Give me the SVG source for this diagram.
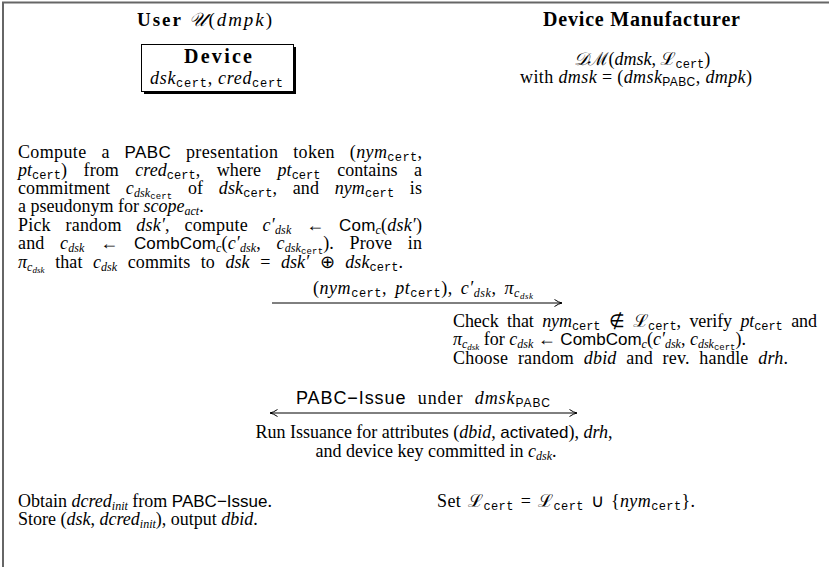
<svg xmlns="http://www.w3.org/2000/svg" width="829" height="567" viewBox="0 0 829 567">
<style>
.t{font-family:"Liberation Serif",serif;font-size:18px;fill:#000}
.b{font-weight:bold}
.i{font-style:italic}
.sf{font-family:"Liberation Sans",sans-serif;font-size:17px}
.tt{font-family:"Liberation Mono",monospace;font-size:12px}
.s{font-size:12px}
.ss{font-size:9px}
.tts{font-family:"Liberation Mono",monospace;font-size:9px}
.sfs{font-family:"Liberation Sans",sans-serif;font-size:12px}
.cal{font-family:"DejaVu Serif","Noto Sans",serif;font-style:italic}
.m{text-anchor:middle}
.ln{stroke:#000;stroke-width:1;fill:none}
</style>
<defs>
<marker id="ah" viewBox="0 0 10 10" refX="9.5" refY="5" markerWidth="10" markerHeight="10" markerUnits="userSpaceOnUse" orient="auto-start-reverse">
<path d="M2,1.5 Q6,4.3 9.5,5 Q6,5.7 2,8.5" fill="none" stroke="#000" stroke-width="1"/>
</marker>
</defs>
<rect width="829" height="567" fill="#fff"/>
<g id="frame">
<line x1="2" y1="2.5" x2="829" y2="2.5" stroke="#666" stroke-width="2"/>
<line x1="3" y1="2" x2="3" y2="567" stroke="#666" stroke-width="2"/>
</g>

<g id="user-header">
<text class="t" x="137" y="26" style="font-size:19px" textLength="135" lengthAdjust="spacing"><tspan class="b">User</tspan>  <tspan class="cal">𝒰</tspan>(<tspan class="i">dmpk</tspan>)</text>
</g>
<g id="dm-header">
<text class="t b" x="543" y="26" style="font-size:20px" textLength="197" lengthAdjust="spacing">Device Manufacturer</text>
<text class="t m" x="642" y="65"><tspan class="cal">𝒟ℳ</tspan>(<tspan class="i">dmsk</tspan>, <tspan class="cal">ℒ</tspan><tspan class="tt" dy="3">cert</tspan><tspan dy="-3">)</tspan></text>
<text class="t" x="520" y="83" textLength="232" lengthAdjust="spacing">with <tspan class="i">dmsk</tspan> = (<tspan class="i">dmsk</tspan><tspan class="sfs" dy="3">PABC</tspan><tspan dy="-3">, </tspan><tspan class="i">dmpk</tspan>)</text>
</g>

<g id="device">
<rect x="144" y="47" width="152" height="47" fill="#000"/>
<rect x="141.5" y="44.5" width="152" height="47" fill="#fff" stroke="#000" stroke-width="1"/>
<text class="t b" x="184" y="63" style="font-size:20px" textLength="68" lengthAdjust="spacing">Device</text>
<text class="t" x="150" y="84" textLength="133" lengthAdjust="spacing"><tspan class="i">dsk</tspan><tspan class="tt" dy="3">cert</tspan><tspan dy="-3">, </tspan><tspan class="i">cred</tspan><tspan class="tt" dy="3">cert</tspan></text>
</g>

<g id="user-step1">
<text class="t" x="18" y="158" style="word-spacing:10px" textLength="404" lengthAdjust="spacing">Compute a <tspan class="sf">PABC</tspan> presentation token (<tspan class="i">nym</tspan><tspan class="tt" dy="3">cert</tspan><tspan dy="-3">,</tspan></text>
<text class="t" x="18" y="176" style="word-spacing:12px" textLength="404" lengthAdjust="spacing"><tspan class="i">pt</tspan><tspan class="tt" dy="3">cert</tspan><tspan dy="-3">) from </tspan><tspan class="i">cred</tspan><tspan class="tt" dy="3">cert</tspan><tspan dy="-3">, where </tspan><tspan class="i">pt</tspan><tspan class="tt" dy="3">cert</tspan><tspan dy="-3"> contains a</tspan></text>
<text class="t" x="18" y="194" style="word-spacing:11px" textLength="404" lengthAdjust="spacing">commitment <tspan class="i">c</tspan><tspan class="i s" dy="3">dsk</tspan><tspan class="tts" dy="2">cert</tspan><tspan dy="-5"> of </tspan><tspan class="i">dsk</tspan><tspan class="tt" dy="3">cert</tspan><tspan dy="-3">, and </tspan><tspan class="i">nym</tspan><tspan class="tt" dy="3">cert</tspan><tspan dy="-3"> is</tspan></text>
<text class="t" x="18" y="212">a pseudonym for <tspan class="i">scope</tspan><tspan class="i s" dy="3">act</tspan><tspan dy="-3">.</tspan></text>
<text class="t" x="18" y="231" style="word-spacing:10px" textLength="404" lengthAdjust="spacing">Pick random <tspan class="i">dsk′</tspan>, compute <tspan class="i">c′</tspan><tspan class="i s" dy="3">dsk</tspan><tspan dy="-3"> ← </tspan><tspan class="sf">Com</tspan><tspan class="i s" dy="3">c</tspan><tspan dy="-3">(</tspan><tspan class="i">dsk′</tspan>)</text>
<text class="t" x="18" y="249" style="word-spacing:11px" textLength="404" lengthAdjust="spacing">and <tspan class="i">c</tspan><tspan class="i s" dy="3">dsk</tspan><tspan dy="-3"> ← </tspan><tspan class="sf">CombCom</tspan><tspan class="i s" dy="3">c</tspan><tspan dy="-3">(</tspan><tspan class="i">c′</tspan><tspan class="i s" dy="3">dsk</tspan><tspan dy="-3">, </tspan><tspan class="i">c</tspan><tspan class="i s" dy="3">dsk</tspan><tspan class="tts" dy="2">cert</tspan><tspan dy="-5">). Prove in</tspan></text>
<text class="t" x="18" y="268" style="word-spacing:6px" textLength="385" lengthAdjust="spacing"><tspan class="i">π</tspan><tspan class="i s" dy="3">c</tspan><tspan class="i ss" dy="2">dsk</tspan><tspan dy="-5"> that </tspan><tspan class="i">c</tspan><tspan class="i s" dy="3">dsk</tspan><tspan dy="-3"> commits to </tspan><tspan class="i">dsk</tspan> = <tspan class="i">dsk′</tspan> ⊕ <tspan class="i">dsk</tspan><tspan class="tt" dy="3">cert</tspan><tspan dy="-3">.</tspan></text>
</g>

<g id="dm-check">
<text class="t" x="453" y="327" style="word-spacing:4px" textLength="364" lengthAdjust="spacing">Check that <tspan class="i">nym</tspan><tspan class="tt" dy="3">cert</tspan><tspan dy="-3"> ∉ </tspan><tspan class="cal">ℒ</tspan><tspan class="tt" dy="3">cert</tspan><tspan dy="-3">, verify </tspan><tspan class="i">pt</tspan><tspan class="tt" dy="3">cert</tspan><tspan dy="-3"> and</tspan></text>
<text class="t" x="453" y="345"><tspan class="i">π</tspan><tspan class="i s" dy="3">c</tspan><tspan class="i ss" dy="2">dsk</tspan><tspan dy="-5"> for </tspan><tspan class="i">c</tspan><tspan class="i s" dy="3">dsk</tspan><tspan dy="-3"> ← </tspan><tspan class="sf">CombCom</tspan><tspan class="i s" dy="3">c</tspan><tspan dy="-3">(</tspan><tspan class="i">c′</tspan><tspan class="i s" dy="3">dsk</tspan><tspan dy="-3">, </tspan><tspan class="i">c</tspan><tspan class="i s" dy="3">dsk</tspan><tspan class="tts" dy="2">cert</tspan><tspan dy="-5">).</tspan></text>
<text class="t" x="453" y="364" style="word-spacing:5px" textLength="335" lengthAdjust="spacing">Choose random <tspan class="i">dbid</tspan> and rev. handle <tspan class="i">drh</tspan>.</text>
</g>

<g id="issuance">
<text class="t m" x="434" y="438">Run Issuance for attributes (<tspan class="i">dbid</tspan>, <tspan class="sf">activated</tspan>), <tspan class="i">drh</tspan>,</text>
<text class="t m" x="436" y="457">and device key committed in <tspan class="i">c</tspan><tspan class="i s" dy="3">dsk</tspan><tspan dy="-3">.</tspan></text>
</g>

<g id="user-final">
<text class="t" x="18" y="507">Obtain <tspan class="i">dcred</tspan><tspan class="i s" dy="3">init</tspan><tspan dy="-3"> from </tspan><tspan class="sf">PABC−Issue</tspan>.</text>
<text class="t" x="18" y="525">Store (<tspan class="i">dsk</tspan>, <tspan class="i">dcred</tspan><tspan class="i s" dy="3">init</tspan><tspan dy="-3">), output </tspan><tspan class="i">dbid</tspan>.</text>
</g>

<g id="dm-final">
<text class="t" x="437" y="507" style="word-spacing:2px" textLength="258" lengthAdjust="spacing">Set <tspan class="cal">ℒ</tspan><tspan class="tt" dy="3">cert</tspan><tspan dy="-3"> = </tspan><tspan class="cal">ℒ</tspan><tspan class="tt" dy="3">cert</tspan><tspan dy="-3"> ∪ {</tspan><tspan class="i">nym</tspan><tspan class="tt" dy="3">cert</tspan><tspan dy="-3">}.</tspan></text>
</g>

<g id="connectors">
<line class="ln" x1="272" y1="303" x2="562" y2="303" marker-end="url(#ah)"/>
<text class="t" x="313" y="294" style="word-spacing:3px" textLength="220" lengthAdjust="spacing">(<tspan class="i">nym</tspan><tspan class="tt" dy="3">cert</tspan><tspan dy="-3">, </tspan><tspan class="i">pt</tspan><tspan class="tt" dy="3">cert</tspan><tspan dy="-3">), </tspan><tspan class="i">c′</tspan><tspan class="i s" dy="3">dsk</tspan><tspan dy="-3">, </tspan><tspan class="i">π</tspan><tspan class="i s" dy="3">c</tspan><tspan class="i ss" dy="2">dsk</tspan></text>
<line class="ln" x1="270" y1="413" x2="577" y2="413" marker-start="url(#ah)" marker-end="url(#ah)"/>
<text class="t" x="296" y="404" style="word-spacing:6px" textLength="254" lengthAdjust="spacing"><tspan class="sf" style="font-size:18px">PABC−Issue</tspan> under <tspan class="i">dmsk</tspan><tspan class="sfs" dy="3">PABC</tspan></text>
</g>
</svg>
